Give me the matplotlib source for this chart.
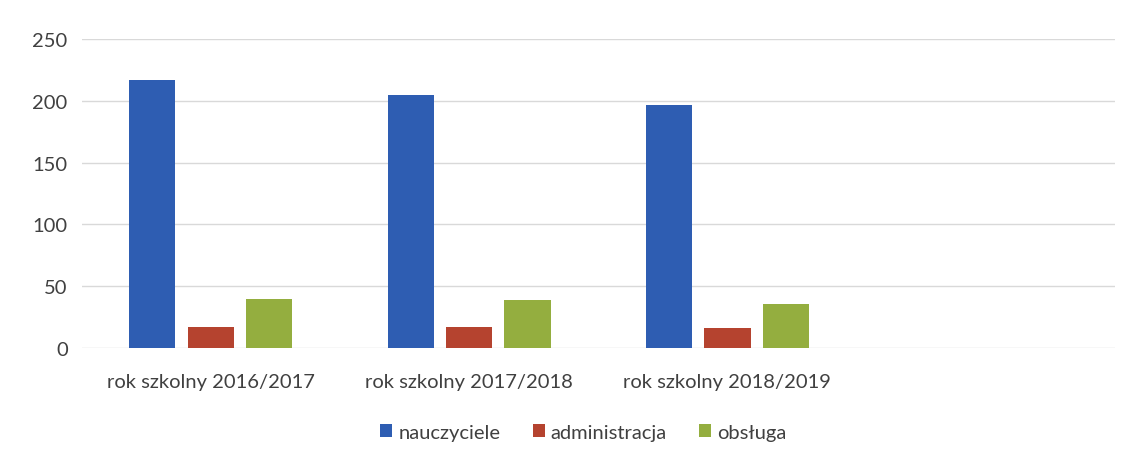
import numpy as np
import matplotlib
matplotlib.use("Agg")
import matplotlib.pyplot as plt

plt.rcParams['font.family'] = ['Lato', 'DejaVu Sans']

# chart data
categories = ["rok szkolny 2016/2017", "rok szkolny 2017/2018", "rok szkolny 2018/2019", ""]
series_names = ["nauczyciele", "administracja", "obsługa"]
nauczyciele = [217, 205, 197, np.nan]
administracja = [17, 17, 16, np.nan]
obsluga = [40, 39, 36, np.nan]
yticks = [0, 50, 100, 150, 200, 250]

colors = ["#2E5DB2", "#B5432F", "#94AE3F"]

fig = plt.figure(figsize=(11.33, 4.6), dpi=100)
ax = fig.add_axes([0.072, 0.241, 0.912, 0.672])

x = np.arange(len(categories))
width = 0.179
offset = 0.226
for i, (vals, name) in enumerate(zip([nauczyciele, administracja, obsluga], series_names)):
    ax.bar(x + (i - 1) * offset, vals, width, color=colors[i], label=name, zorder=3)

ax.set_xlim(-0.5, len(categories) - 0.5)
ax.set_ylim(0, 250)
ax.set_yticks(yticks)
ax.set_xticks(x)
ax.set_xticklabels(categories)
ax.grid(axis="y", color="#d9d9d9", linewidth=1, zorder=0)
for s in ax.spines.values():
    s.set_visible(False)
ax.tick_params(length=0, labelsize=14.5, colors="#404040")
ax.tick_params(axis="x", pad=18)
ax.tick_params(axis="y", pad=10)
for lab in ax.get_yticklabels():
    lab.set_horizontalalignment("right")

fig.legend(loc="lower center", bbox_to_anchor=(0.515, 0.0), ncol=3, frameon=False,
           fontsize=14.5, handlelength=0.6, handleheight=0.6, handletextpad=0.3,
           columnspacing=1.6, labelcolor="#404040")

fig.savefig("out.png", dpi=100, facecolor="white")
